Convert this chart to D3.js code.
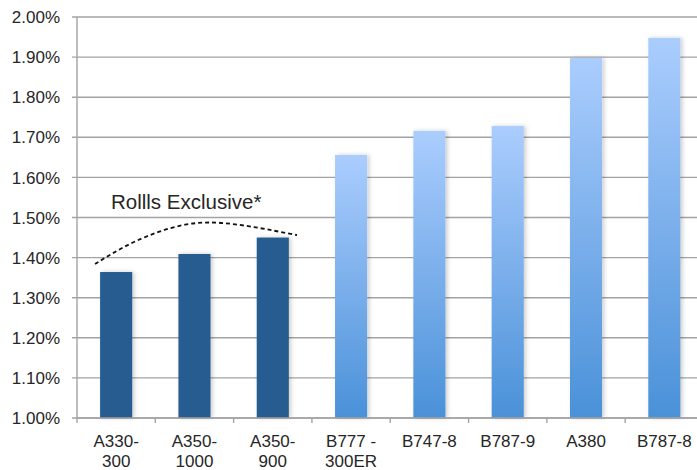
<!DOCTYPE html>
<html><head><meta charset="utf-8">
<script src="https://cdn.jsdelivr.net/npm/d3@7"></script>
<style>
html,body{margin:0;padding:0;background:#fff;}
svg{display:block;}
text{font-family:"Liberation Sans","Helvetica Neue",Helvetica,Arial,sans-serif;fill:#262626;}
</style></head>
<body>
<svg id="chart" width="697" height="470"></svg>
<script>
const categories = ["A330-\n300","A350-\n1000","A350-\n900","B777 -\n300ER","B747-8","B787-9","A380","B787-8"];
const values = [1.364, 1.409, 1.450, 1.656, 1.716, 1.728, 1.898, 1.948];
const rollsExclusive = [true, true, true, false, false, false, false, false];
const yTicks = [1.0,1.1,1.2,1.3,1.4,1.5,1.6,1.7,1.8,1.9,2.0];
const annotationText = "Rollls Exclusive*";
// arc over the Rolls-exclusive bars: [band position (in bands), value]
const arcPoints = [[0.23,1.384],[0.74,1.440],[1.38,1.482],[2.02,1.483],[2.81,1.456]];

(function(){
const svg = d3.select("#chart");
const mLeft = 77, mRight = 703.5, mTop = 17, mBottom = 418;

const x = d3.scaleBand().domain(categories).range([mLeft, mRight]).paddingInner(0.59).paddingOuter(0.295);
const xPos = d3.scaleLinear().domain([0, categories.length]).range([mLeft, mRight]);
const y = d3.scaleLinear().domain([1.0, 2.0]).range([mBottom, mTop]);

const defs = svg.append("defs");
const grad = defs.append("linearGradient").attr("id","lightGrad").attr("x1",0).attr("y1",0).attr("x2",0).attr("y2",1);
grad.append("stop").attr("offset","0%").attr("stop-color","#abcdfe");
grad.append("stop").attr("offset","100%").attr("stop-color","#4a91d8");
const f = defs.append("filter").attr("id","shadow").attr("x","-20%").attr("y","-10%").attr("width","150%").attr("height","120%");
f.append("feDropShadow").attr("dx",2).attr("dy",0).attr("stdDeviation",2).attr("flood-color","#000").attr("flood-opacity",0.2);

// gridlines
svg.append("g").selectAll("line").data(yTicks).join("line")
  .attr("x1", mLeft - 5).attr("x2", 697)
  .attr("y1", d => y(d)).attr("y2", d => y(d))
  .attr("stroke", "#a3a3a3").attr("stroke-width", 1.4);

// y axis line
svg.append("line").attr("x1", mLeft).attr("x2", mLeft).attr("y1", mTop).attr("y2", mBottom)
  .attr("stroke", "#a3a3a3").attr("stroke-width", 1.4);

// y labels
svg.append("g").selectAll("text").data(yTicks).join("text")
  .attr("x", 60).attr("y", d => y(d)).attr("dy", "0.36em")
  .attr("text-anchor", "end").style("font-size", "17px")
  .text(d => d3.format(".2f")(d) + "%");

// bars
const data = categories.map((c,i) => ({c, v: values[i], ex: rollsExclusive[i]}));
svg.append("g").selectAll("rect").data(data).join("rect")
  .attr("x", d => x(d.c)).attr("width", x.bandwidth())
  .attr("y", d => y(d.v)).attr("height", d => y(1.0) - y(d.v))
  .attr("fill", d => d.ex ? "#265c8f" : "url(#lightGrad)")
  .attr("filter", "url(#shadow)");

// x axis line & ticks
svg.append("line").attr("x1", mLeft).attr("x2", 697).attr("y1", mBottom).attr("y2", mBottom)
  .attr("stroke", "#a3a3a3").attr("stroke-width", 1.4);
svg.append("g").selectAll("line").data(d3.range(categories.length + 1)).join("line")
  .attr("x1", d => xPos(d)).attr("x2", d => xPos(d))
  .attr("y1", mBottom).attr("y2", mBottom + 5)
  .attr("stroke", "#a3a3a3").attr("stroke-width", 1.4);

// x labels
const xl = svg.append("g").selectAll("text").data(categories).join("text")
  .attr("x", d => x(d) + x.bandwidth()/2).attr("y", 447)
  .attr("text-anchor", "middle").style("font-size", "17px");
xl.each(function(d){
  const parts = d.split("\n");
  d3.select(this).selectAll("tspan").data(parts).join("tspan")
    .attr("x", x(d) + x.bandwidth()/2)
    .attr("dy", (p,i) => i === 0 ? 0 : 20)
    .text(p => p);
});

// annotation arc
const line = d3.line().x(d => xPos(d[0])).y(d => y(d[1])).curve(d3.curveNatural);
svg.append("path").attr("d", line(arcPoints))
  .attr("fill", "none").attr("stroke", "#111").attr("stroke-width", 1.8)
  .attr("stroke-dasharray", "4,3");

svg.append("text").attr("x", 111).attr("y", 209).style("font-size", "20.5px")
  .text(annotationText);
})();
</script>
</body></html>
